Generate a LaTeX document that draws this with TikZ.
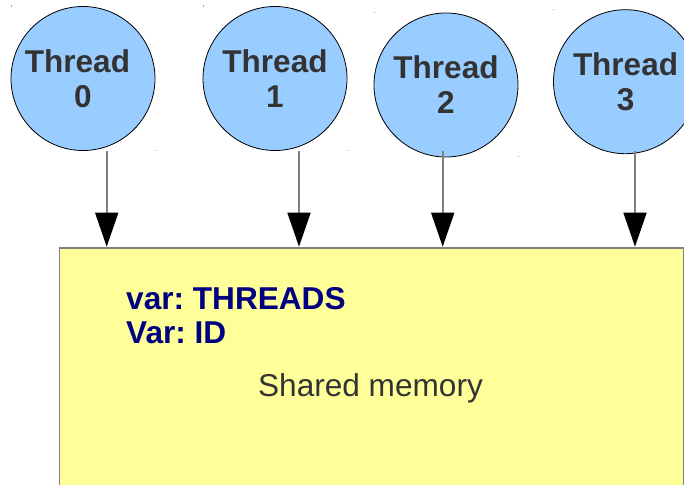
\documentclass[tikz,border=0pt]{standalone}
\usepackage{fontspec}
\setmainfont{Liberation Sans}
\frenchspacing
\usetikzlibrary{arrows.meta,calc}
\definecolor{threadfill}{HTML}{99CCFF}
\definecolor{memfill}{HTML}{FFFF99}
\definecolor{txtgray}{HTML}{333333}
\definecolor{linegray}{HTML}{808080}
\definecolor{navytxt}{HTML}{000080}
\tikzset{
  thread/.style={circle, draw=black, line width=0.8pt, fill=threadfill,
    minimum size=144pt, inner sep=0pt, align=center, text=txtgray,
    font=\fontsize{31.5}{35}\selectfont\bfseries},
  membox/.style={rectangle, draw=linegray, line width=1.8pt, fill=memfill,
    inner sep=0pt, anchor=north west},
  arr/.style={draw=linegray, line width=1.6pt,
    -{Triangle[length=34pt,width=23pt,fill=black,color=black]}},
  vartext/.style={anchor=base west, inner sep=0pt, text=navytxt,
    font=\fontsize{31.6}{34}\selectfont\bfseries},
  memtext/.style={anchor=base, inner sep=0pt, text=txtgray,
    font=\fontsize{31.6}{36}\selectfont},
  corner/.style={fill=linegray!70}
}
\begin{document}
\begin{tikzpicture}[x=1pt,y=1pt]
\useasboundingbox (0,0) rectangle (684,-484);
\clip (0,0) rectangle (684,-484);
\fill[white] (0,0) rectangle (684,-484);
% shared memory
\node[membox, minimum width=624.5pt, minimum height=300pt] (mem) at (58.5,-246.7) {};
\node[vartext] (v1) at (126,-309.3) {var: THREADS};
\node[vartext] (v2) at (126,-343.3) {Var: ID};
\node[memtext] (sm) at (370.5,-396) {Shared memory};
% threads
\node[thread] (t0) at (83,-78.5) {Thread\hspace*{0.35em}\\0};
\node[thread] (t1) at (275,-78.5) {Thread\\1};
\node[thread] (t2) at (446,-85) {Thread\\2};
\node[thread] (t3) at (625.5,-81.7) {Thread\\3};
% corner marks
\foreach \p in {(11.5,-6),(155.5,-150.7),(203.2,-6),(347.3,-150.7),(374.2,-12.7),(518.8,-156.3),(553.8,-9.3)}
  \fill[corner] \p ++(-0.6,-0.6) rectangle ++(1.2,1.2);
% arrows
\coordinate (a0) at ([xshift=23.7pt]t0.south);
\coordinate (a1) at ([xshift=24pt]t1.south);
\coordinate (a2) at ([xshift=-3.3pt,yshift=6pt]t2.south);
\coordinate (a3) at ([xshift=9.5pt,yshift=2.7pt]t3.south);
\draw[arr] (a0) -- (a0 |- mem.north);
\draw[arr] (a1) -- (a1 |- mem.north);
\draw[arr] (a2) -- (a2 |- mem.north);
\draw[arr] (a3) -- (a3 |- mem.north);
\end{tikzpicture}
\end{document}
